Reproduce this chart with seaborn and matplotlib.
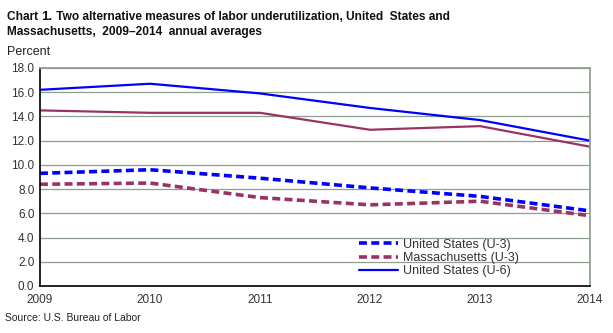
import matplotlib
matplotlib.use("Agg")
import matplotlib.pyplot as plt
import seaborn as sns
import pandas as pd

years = [2009, 2010, 2011, 2012, 2013, 2014]
us_u3 = [9.3, 9.6, 8.9, 8.1, 7.4, 6.2]
ma_u3 = [8.4, 8.5, 7.3, 6.7, 7.0, 5.8]
us_u6 = [16.2, 16.7, 15.9, 14.7, 13.7, 12.0]
ma_u6 = [14.5, 14.3, 14.3, 12.9, 13.2, 11.5]
series_names = ["United States (U-3)", "Massachusetts (U-3)",
                "United States (U-6)", "Massachusetts (U-6)"]
y_ticks = [0, 2, 4, 6, 8, 10, 12, 14, 16, 18]

sns.set_theme(style="white")
plt.rcParams["font.family"] = ["Liberation Sans", "DejaVu Sans"]

blue = "#0000FF"
maroon = "#993366"

df = pd.DataFrame({
    "year": years * 4,
    "value": us_u3 + ma_u3 + us_u6 + ma_u6,
    "series": sum([[n] * len(years) for n in series_names], []),
})

fig = plt.figure(figsize=(6.13, 3.33), dpi=100)
ax = fig.add_axes([40 / 613, 47 / 333, 550 / 613, 218 / 333])

styles = {
    "United States (U-3)": dict(color=blue, lw=2.6, ls=(0, (2.2, 1.2))),
    "Massachusetts (U-3)": dict(color=maroon, lw=2.6, ls=(0, (2.2, 1.2))),
    "United States (U-6)": dict(color=blue, lw=1.6, ls="-"),
    "Massachusetts (U-6)": dict(color=maroon, lw=1.6, ls="-"),
}
handles = {}
for name in series_names:
    sub = df[df["series"] == name]
    st = styles[name]
    sns.lineplot(data=sub, x="year", y="value", ax=ax, color=st["color"],
                 linewidth=st["lw"], linestyle=st["ls"], legend=False)
    handles[name] = ax.lines[-1]

ax.set_xlim(2009, 2014)
ax.set_ylim(0, 18)
ax.set_yticks(y_ticks)
ax.set_yticklabels([f"{v:.1f}" for v in y_ticks])
ax.set_xticks(years)
ax.set_xticklabels([str(y) for y in years])
ax.set_xlabel("")
ax.set_ylabel("")
ax.yaxis.grid(True, color="#8f9f8f", linewidth=0.9)
ax.xaxis.grid(False)
ax.set_axisbelow(True)
ax.tick_params(axis="both", labelsize=8.5, colors="#333333", length=0, pad=4)
ax.tick_params(axis="x", pad=6)
for lab in ax.get_xticklabels() + ax.get_yticklabels():
    lab.set_color("#333333")
ax.spines["left"].set_color("black")
ax.spines["bottom"].set_color("black")
ax.spines["left"].set_linewidth(1.2)
ax.spines["bottom"].set_linewidth(1.2)
ax.spines["top"].set_color("#8f9f8f")
ax.spines["right"].set_color("#8f9f8f")

leg_names = series_names[:3]
leg = ax.legend([handles[n] for n in leg_names], leg_names,
                loc="lower left", bbox_to_anchor=(0.565, 0.0),
                frameon=False, fontsize=9, handlelength=3.1,
                labelspacing=0.1, handletextpad=0.4, borderaxespad=0.3)
for t in leg.get_texts():
    t.set_color("#333333")

# Title: bold throughout, with a slightly larger chart number
renderer = fig.canvas.get_renderer()
title_fs = 8.6
y1 = 1 - 19.5 / 333
x = 7 / 613
for piece, size in [("Chart ", title_fs), ("1.", 9.6),
                    (" Two alternative measures of labor underutilization, United  States and", title_fs)]:
    t = fig.text(x, y1, piece, fontsize=size, fontweight="bold",
                 va="baseline", ha="left", color="#111111")
    bb = t.get_window_extent(renderer=renderer)
    x = bb.x1 / fig.bbox.width
fig.text(7 / 613, 1 - 35.5 / 333,
         "Massachusetts,  2009\u20132014  annual averages",
         fontsize=title_fs, fontweight="bold", va="baseline", ha="left",
         color="#111111")
fig.text(7 / 613, 1 - 52 / 333, "Percent", fontsize=9, va="center",
         ha="left", color="#222222")
fig.text(5 / 613, 1 - 318 / 333, "Source: U.S. Bureau of Labor", fontsize=7.5,
         va="center", ha="left", color="#222222")

fig.savefig("out.png", dpi=100)
